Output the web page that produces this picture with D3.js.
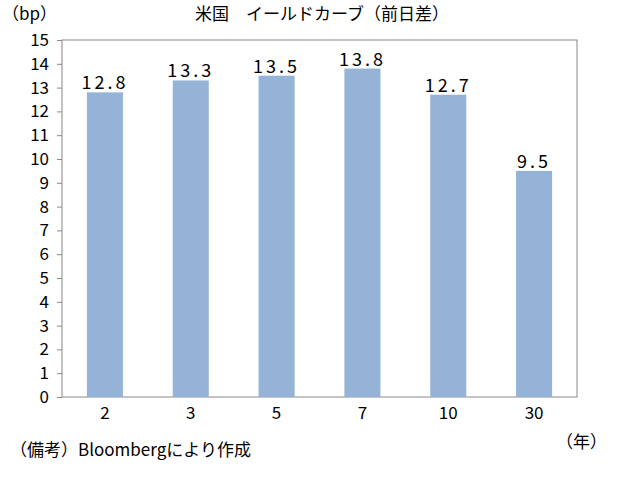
<!DOCTYPE html>
<html><head><meta charset="utf-8">
<script src="https://cdn.jsdelivr.net/npm/d3@7"></script>
<style>body{margin:0;background:#fff}text{font-family:"Noto Sans CJK JP";fill:#000}</style>
</head><body>
<svg id="c" width="633" height="480"></svg>
<script>
const categories = ["2","3","5","7","10","30"];
const values = [12.8,13.3,13.5,13.8,12.7,9.5];
const yTicks = d3.range(0,16);
const title = "米国　イールドカーブ（前日差）";

const svg = d3.select("#c");
const L=62,R=577,T=40,B=397;
const x = d3.scaleBand().domain(categories).range([L,R]).paddingInner(0.58).paddingOuter(0.29);
const y = d3.scaleLinear().domain([0,15]).range([B,T]);

svg.append("rect").attr("x",L).attr("y",T).attr("width",R-L).attr("height",B-T)
  .attr("fill","none").attr("stroke","#888").attr("stroke-width",1);

svg.selectAll(".bar").data(values).join("rect")
  .attr("x",(d,i)=>x(categories[i])).attr("width",x.bandwidth())
  .attr("y",d=>y(d)).attr("height",d=>B-y(d)).attr("fill","#95B3D7");

svg.selectAll(".lbl").data(values).join("text")
  .attr("x",(d,i)=>x(categories[i])+x.bandwidth()/2).attr("y",d=>y(d)-3)
  .attr("text-anchor","middle").attr("font-size",18).attr("letter-spacing",3).text(d=>d.toFixed(1));

const ya = svg.append("g").attr("transform",`translate(${L},0)`)
  .call(d3.axisLeft(y).tickValues(yTicks).tickSize(5).tickPadding(8).tickFormat(d3.format("d")));
ya.select(".domain").remove();
ya.selectAll("line").attr("stroke","#888");
ya.selectAll("text").attr("font-size",17).attr("font-family","Noto Sans CJK JP");

const xa = svg.append("g").attr("transform",`translate(0,${B})`)
  .call(d3.axisBottom(x).tickSize(0).tickPadding(10));
xa.select(".domain").remove();
xa.selectAll("text").attr("font-size",17).attr("font-family","Noto Sans CJK JP");

svg.append("text").attr("x",322).attr("y",20).attr("text-anchor","middle").attr("font-size",17).text(title);
svg.append("text").attr("x",2).attr("y",20).attr("font-size",17).text("（bp）");
svg.append("text").attr("x",10).attr("y",456).attr("font-size",17).text("（備考）Bloombergにより作成");
svg.append("text").attr("x",556).attr("y",448).attr("font-size",17).text("（年）");
</script></body></html>
